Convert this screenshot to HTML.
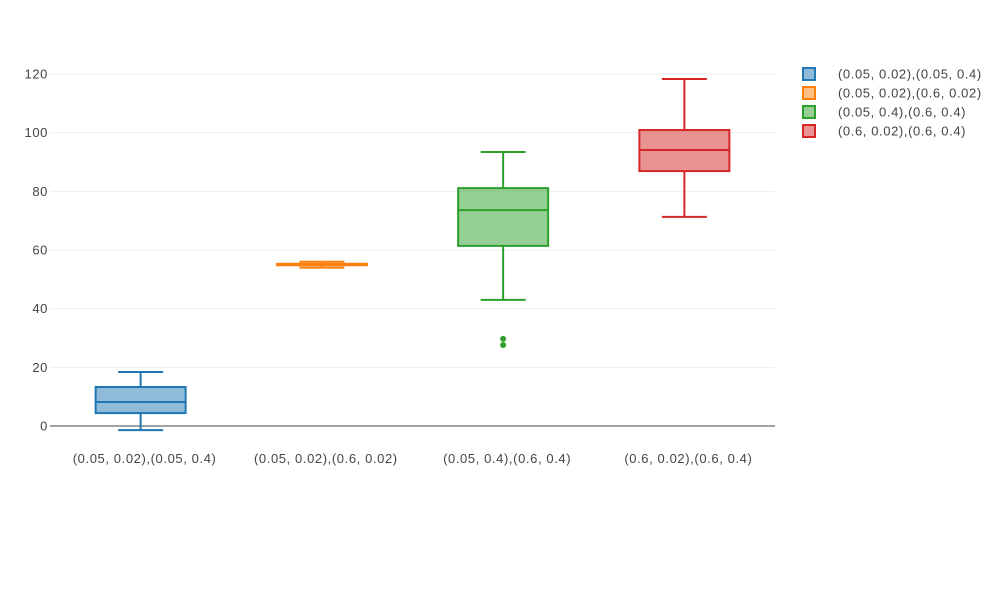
<!DOCTYPE html>
<html><head><meta charset="utf-8"><style>
body{margin:0;background:#fff;font-family:"Liberation Sans",sans-serif}
text{font-family:"Liberation Sans",sans-serif;fill:#444;font-size:13px;letter-spacing:0.6px}
</style></head><body>
<svg width="1000" height="600" id="chart"></svg>
<script>
const categories=["(0.05, 0.02),(0.05, 0.4)","(0.05, 0.02),(0.6, 0.02)","(0.05, 0.4),(0.6, 0.4)","(0.6, 0.02),(0.6, 0.4)"];
const lowerWhisker=[-1.4,54.0,43.0,71.3];
const q1=[4.4,54.8,61.4,86.9];
const median=[8.2,55.0,73.6,94.1];
const q3=[13.3,55.3,81.1,100.9];
const upperWhisker=[18.4,56.0,93.4,118.3];
const outliers=[[],[],[29.7,27.6],[]];
const colors=["#1f77b4","#ff7f0e","#2ca02c","#d62728"];
const fills=["rgba(31,119,180,0.5)","rgba(255,127,14,0.5)","rgba(44,160,44,0.5)","rgba(214,39,40,0.5)"];
const yTicks=[0,20,40,60,80,100,120];
const NS="http://www.w3.org/2000/svg";
const svg=document.getElementById('chart');
const X0=50,X1=775,Y0=426,PX=352/120;
const y=v=>Y0-v*PX;
const xc=i=>X0+(X1-X0)/categories.length*(i+0.5);
function mk(t,a,p){const e=document.createElementNS(NS,t);for(const k in a)e.setAttribute(k,a[k]);(p||svg).appendChild(e);return e;}
yTicks.forEach(t=>{
 if(t!==0){const g=mk('line',{x1:X0,x2:X1,y1:y(t),y2:y(t),stroke:'#eee'});
 
 }
 const l=mk('text',{x:X0-2,y:y(t)+4.5,'text-anchor':'end'});l.textContent=t;
 
 
});
const zl=mk('line',{x1:X0,x2:X1,y1:Y0,y2:Y0,stroke:'#444'});


categories.forEach((c,i)=>{
 const cx=xc(i),hw=45,cw=22.5,col=colors[i];
 const g=mk('g',{});
 
 
 mk('line',{x1:cx,x2:cx,y1:y(upperWhisker[i]),y2:y(q3[i]),stroke:col,'stroke-width':2},g);
 mk('line',{x1:cx,x2:cx,y1:y(q1[i]),y2:y(lowerWhisker[i]),stroke:col,'stroke-width':2},g);
 mk('line',{x1:cx-cw,x2:cx+cw,y1:y(upperWhisker[i]),y2:y(upperWhisker[i]),stroke:col,'stroke-width':2},g);
 mk('line',{x1:cx-cw,x2:cx+cw,y1:y(lowerWhisker[i]),y2:y(lowerWhisker[i]),stroke:col,'stroke-width':2},g);
 mk('rect',{x:cx-hw,width:2*hw,y:y(q3[i]),height:y(q1[i])-y(q3[i]),fill:fills[i],stroke:col,'stroke-width':2},g);
 mk('line',{x1:cx-hw,x2:cx+hw,y1:y(median[i]),y2:y(median[i]),stroke:col,'stroke-width':2},g);
 outliers[i].forEach(o=>{const p=mk('circle',{cx:cx,cy:y(o),r:3,fill:col},g);
  
  });
 const t=mk('text',{x:cx+4,y:463,'text-anchor':'middle'});t.textContent=c;
 
 
 const lg=mk('g',{});
 
 
 const ly=74+i*19;
 mk('rect',{x:803,y:ly-6,width:12,height:12,fill:fills[i],stroke:col,'stroke-width':2},lg);
 const lt=mk('text',{x:838,y:ly+4.5},lg);lt.textContent=c;
});
</script>
</body></html>
